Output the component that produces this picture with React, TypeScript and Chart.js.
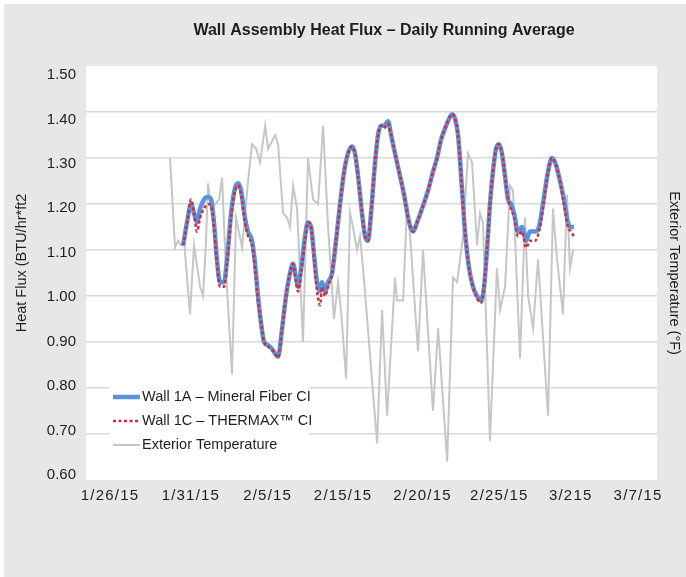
import React, { useEffect, useRef } from "react";
import { Chart, registerables } from "chart.js";

Chart.register(...registerables);

const TITLE = "Wall Assembly Heat Flux – Daily Running Average";
const Y_TITLE = "Heat Flux (BTU/hr*ft2";
const Y2_TITLE = "Exterior Temperature (°F)";
const SERIES_1A = "Wall 1A – Mineral Fiber CI";
const SERIES_1C = "Wall 1C – THERMAX™ CI";
const SERIES_T = "Exterior Temperature";

// x axis in days since 1/26/15
const X_MIN = -1.24;
const X_MAX = 41.15;
const X_TICK_LABELS = ["1/26/15", "1/31/15", "2/5/15", "2/15/15", "2/20/15", "2/25/15", "3/215", "3/7/15"];
const X_TICK_DAYS = [0.5, 6.5, 12.2, 17.8, 23.7, 29.4, 34.7, 39.7];
const Y_TICKS = [1.5, 1.4, 1.3, 1.2, 1.1, 1.0, 0.9, 0.8, 0.7, 0.6];

const FLUX_DAYS = [
  5.97, 6.26, 6.56, 6.78, 7.0, 7.23, 7.52, 7.82, 8.04, 8.26,
  8.48, 8.71, 9.0, 9.23, 9.53, 9.83, 10.05, 10.27, 10.56, 10.79,
  11.09, 11.31, 11.53, 11.76, 11.98, 12.28, 12.57, 12.8, 13.02, 13.32,
  13.61, 13.91, 14.13, 14.35, 14.5, 14.73, 15.02, 15.24, 15.47, 15.69,
  15.91, 16.14, 16.29, 16.51, 16.73, 17.03, 17.32, 17.62, 17.92, 18.21,
  18.51, 18.73, 18.96, 19.25, 19.48, 19.7, 19.92, 20.22, 20.44, 20.66,
  20.89, 21.18, 21.41, 21.7, 22.08, 22.37, 22.75, 23.04, 23.34, 23.71,
  24.16, 24.52, 24.82, 25.12, 25.49, 25.79, 25.94, 26.16, 26.38, 26.68,
  26.9, 27.2, 27.49, 27.79, 28.09, 28.31, 28.53, 28.75, 28.97, 29.2,
  29.42, 29.64, 29.87, 30.09, 30.31, 30.54, 30.83, 31.13, 31.43, 31.72,
  32.09, 32.39, 32.68, 33.06, 33.35, 33.65, 33.95, 34.24, 34.54, 34.76,
  34.98,
];

const WALL_1A = [
  1.11, 1.16, 1.2, 1.18, 1.16, 1.19, 1.21, 1.215, 1.21, 1.16,
  1.08, 1.03, 1.03, 1.08, 1.18, 1.235, 1.245, 1.23, 1.17, 1.14,
  1.12, 1.07, 1.0, 0.94, 0.9, 0.893, 0.885, 0.875, 0.868, 0.93,
  1.0, 1.05, 1.07, 1.04, 1.02, 1.06, 1.13, 1.16, 1.15, 1.09,
  1.03, 1.01, 1.03, 1.01, 1.03, 1.05, 1.12, 1.2, 1.27, 1.31,
  1.325, 1.31, 1.26, 1.18, 1.13, 1.12, 1.18, 1.29, 1.35, 1.37,
  1.37, 1.38, 1.35, 1.31, 1.26, 1.22, 1.16, 1.14, 1.16, 1.19,
  1.23, 1.27, 1.3, 1.34, 1.37, 1.39, 1.395, 1.385, 1.35, 1.23,
  1.14, 1.06, 1.02, 1.0, 0.99, 1.02, 1.1, 1.2, 1.27, 1.32,
  1.33, 1.31, 1.26, 1.21, 1.2, 1.18, 1.14, 1.15, 1.12, 1.14,
  1.14, 1.15, 1.2, 1.27, 1.3, 1.285, 1.25, 1.21, 1.16, 1.15,
  1.15,
];

const WALL_1C = [
  1.11, 1.16, 1.21, 1.18, 1.14, 1.17, 1.19, 1.2, 1.195, 1.15,
  1.07, 1.02, 1.02, 1.07, 1.17, 1.23, 1.24, 1.22, 1.16, 1.13,
  1.11, 1.06, 0.99, 0.94, 0.9, 0.89, 0.883, 0.873, 0.866, 0.93,
  1.0, 1.05, 1.07, 1.03, 1.01, 1.05, 1.12, 1.16, 1.15, 1.08,
  1.01, 0.98, 1.02, 1.0, 1.02, 1.05, 1.12, 1.2, 1.27, 1.31,
  1.325, 1.31, 1.26, 1.18, 1.13, 1.12, 1.18, 1.29, 1.35, 1.37,
  1.365, 1.375, 1.35, 1.31, 1.26, 1.22, 1.16, 1.14, 1.16, 1.19,
  1.23, 1.27, 1.3, 1.34, 1.37, 1.39, 1.395, 1.385, 1.35, 1.23,
  1.14, 1.06, 1.02, 0.995, 0.985, 1.02, 1.1, 1.2, 1.27, 1.32,
  1.33, 1.31, 1.26, 1.21, 1.19, 1.17, 1.13, 1.14, 1.105, 1.12,
  1.12, 1.14, 1.19, 1.27, 1.3, 1.285, 1.25, 1.2, 1.15, 1.14,
  1.13,
];

const TEMP_DAYS = [
  5.0, 5.37, 5.59, 5.82, 6.04, 6.48, 6.78, 7.23, 7.45, 7.67,
  7.82, 8.04, 8.34, 8.64, 8.86, 9.16, 9.6, 9.9, 10.35, 10.79,
  11.09, 11.39, 11.68, 12.06, 12.28, 12.8, 13.02, 13.39, 13.69, 13.91,
  14.13, 14.43, 14.87, 15.24, 15.62, 15.99, 16.36, 16.73, 17.17, 17.47,
  17.69, 18.07, 18.36, 18.58, 18.88, 19.1, 19.33, 20.37, 20.74, 21.11,
  21.7, 21.85, 22.3, 22.6, 22.82, 23.41, 23.78, 24.52, 24.9, 25.57,
  26.01, 26.31, 26.75, 27.12, 27.42, 27.79, 28.01, 28.23, 28.75, 29.27,
  29.5, 29.87, 30.24, 30.46, 30.61, 30.98, 31.35, 31.58, 31.95, 32.32,
  33.06, 33.43, 33.73, 34.17, 34.47, 34.69, 34.92,
];

const TEMP_F = [
  50, 30.5, 32, 31, 32, 16, 31, 22, 20, 32,
  44.5, 39, 40, 41, 45.7, 25, 3, 37, 30.5, 45,
  53, 52, 49, 57, 52, 55, 53, 38, 37, 35,
  44, 39, 10, 50, 41, 40, 57, 35, 15, 23,
  17, 2, 38, 35, 30, 33, 26, -12, 17, -6,
  24, 19, 19, 40, 33, 8, 30, -5, 13, -16,
  24, 23, 33, 51, 49, 31, 38, 36, -11.5, 26,
  17, 22, 44, 43, 33, 6.5, 37, 20, 13, 28,
  -6, 39, 28, 16, 42, 26, 30,
];

const FONT = "'Liberation Sans', Arial, Helvetica, sans-serif";
const TEXT = "#1e1e1e";
const BLUE = "#5a93d8";
const RED = "#d5283b";
const GRAY_LINE = "#c6c6c6";
const GRID = "#d9d9d9";
const BG = "#e6e7e8";

const bgPlugin = {
  id: "bg",
  beforeDraw(chart: any) {
    const { ctx, width, height, chartArea } = chart;
    ctx.save();
    ctx.fillStyle = BG;
    ctx.fillRect(0, 0, width, height);
    ctx.fillStyle = "#ffffff";
    ctx.fillRect(chartArea.left, chartArea.top, chartArea.right - chartArea.left, chartArea.bottom - chartArea.top);
    ctx.fillStyle = TEXT;
    ctx.font = `bold 16px ${FONT}`;
    ctx.textAlign = "center";
    ctx.textBaseline = "middle";
    ctx.fillText(TITLE, 380, 27);
    ctx.restore();
  },
};

const legendPlugin = {
  id: "innerLegend",
  afterDatasetsDraw(chart: any) {
    const { ctx } = chart;
    const items = [
      { text: SERIES_1A, color: BLUE, width: 4.5, dash: [] as number[] },
      { text: SERIES_1C, color: RED, width: 2.5, dash: [3, 2.5] },
      { text: SERIES_T, color: GRAY_LINE, width: 2, dash: [] as number[] },
    ];
    ctx.save();
    ctx.fillStyle = "#ffffff";
    ctx.fillRect(105, 374, 200, 84);
    ctx.font = `14.5px ${FONT}`;
    ctx.textBaseline = "middle";
    ctx.textAlign = "left";
    items.forEach((it, i) => {
      const y = 393 + i * 24;
      ctx.beginPath();
      ctx.setLineDash(it.dash);
      ctx.strokeStyle = it.color;
      ctx.lineWidth = it.width;
      ctx.moveTo(109, y);
      ctx.lineTo(136, y);
      ctx.stroke();
      ctx.setLineDash([]);
      ctx.fillStyle = TEXT;
      ctx.fillText(it.text, 138, y);
    });
    ctx.restore();
  },
};

// axis labels drawn from the scales (reference labels are slightly compressed vs. gridlines)
const axisTextPlugin = {
  id: "axisText",
  afterDraw(chart: any) {
    const { ctx, chartArea } = chart;
    const xs = chart.scales.x;
    const ys = chart.scales.y;
    ctx.save();
    ctx.fillStyle = TEXT;
    ctx.font = `15px ${FONT}`;
    // x labels
    ctx.textAlign = "center";
    ctx.textBaseline = "middle";
    (ctx as any).letterSpacing = "1.2px";
    X_TICK_DAYS.forEach((d, i) => {
      ctx.fillText(X_TICK_LABELS[i], xs.getPixelForValue(d) + 0.6, chartArea.bottom + 16);
    });
    (ctx as any).letterSpacing = "0px";
    // y labels
    ctx.textAlign = "right";
    const top = ys.getPixelForValue(1.5);
    const bot = ys.getPixelForValue(0.6);
    const k = 400 / (bot - top);
    Y_TICKS.forEach((v) => {
      const p = ys.getPixelForValue(v);
      ctx.fillText(v.toFixed(2), chartArea.left - 10, top + 9 + (p - top) * k);
    });
    // y title
    ctx.font = `14.5px ${FONT}`;
    ctx.textAlign = "center";
    ctx.translate(18, (chartArea.top + chartArea.bottom) / 2 - 10);
    ctx.rotate(-Math.PI / 2);
    ctx.fillText(Y_TITLE, 0, 0);
    ctx.restore();
  },
};

export default function App() {
  const ref = useRef<HTMLCanvasElement>(null);
  useEffect(() => {
    document.body.style.margin = "0";
    const canvas = ref.current!;
    const chart = new Chart(canvas, {
      type: "line",
      data: {
        datasets: [
          {
            label: SERIES_1C,
            data: FLUX_DAYS.map((d, i) => ({ x: d, y: WALL_1C[i] })),
            borderColor: RED,
            borderWidth: 2.5,
            borderDash: [3, 2.5],
            pointRadius: 0,
            tension: 0.4,
            cubicInterpolationMode: "monotone",
            yAxisID: "y",
            order: 1,
          } as any,
          {
            label: SERIES_1A,
            data: FLUX_DAYS.map((d, i) => ({ x: d, y: WALL_1A[i] })),
            borderColor: BLUE,
            borderWidth: 4.5,
            pointRadius: 0,
            tension: 0.4,
            cubicInterpolationMode: "monotone",
            yAxisID: "y",
            order: 2,
          },
          {
            label: SERIES_T,
            data: TEMP_DAYS.map((d, i) => ({ x: d, y: TEMP_F[i] })),
            borderColor: GRAY_LINE,
            borderWidth: 2,
            pointRadius: 0,
            tension: 0,
            yAxisID: "y2",
            order: 3,
          },
        ],
      },
      options: {
        animation: false,
        responsive: false,
        maintainAspectRatio: false,
        layout: { padding: { top: 62, left: 0, right: 0, bottom: 0 } },
        plugins: {
          legend: { display: false },
          title: { display: false },
          tooltip: { enabled: false },
        },
        scales: {
          x: {
            type: "linear",
            min: X_MIN,
            max: X_MAX,
            afterBuildTicks: (s: any) => {
              s.ticks = X_TICK_DAYS.map((v) => ({ value: v }));
            },
            afterFit: (s: any) => {
              s.height = 97;
            },
            ticks: { display: false },
            grid: { display: false },
            border: { display: false },
          },
          y: {
            position: "left",
            min: 0.6,
            max: 1.5,
            afterFit: (s: any) => {
              s.width = 82;
            },
            ticks: { stepSize: 0.1, display: false },
            grid: {
              drawTicks: false,
              lineWidth: 1.5,
              color: (c: any) => {
                const v = c.tick ? c.tick.value : 0;
                return Math.abs(v - 0.6) < 1e-6 || Math.abs(v - 1.5) < 1e-6 ? "rgba(0,0,0,0)" : GRID;
              },
            },
            border: { display: false },
          },
          y2: {
            position: "right",
            min: -20,
            max: 70,
            afterFit: (s: any) => {
              s.width = 29;
            },
            ticks: { display: false },
            grid: { display: false },
            border: { display: false },
            title: {
              display: true,
              text: Y2_TITLE,
              color: TEXT,
              font: { family: FONT, size: 14.5 },
              padding: { top: 3, bottom: 0 },
            },
          },
        },
      },
      plugins: [bgPlugin, legendPlugin, axisTextPlugin],
    });
    return () => chart.destroy();
  }, []);

  return (
    <div style={{ position: "relative", width: 686, height: 577, background: "#ffffff" }}>
      <canvas
        ref={ref}
        width={682}
        height={573}
        style={{ position: "absolute", left: 4, top: 4, width: 682, height: 573 }}
      />
    </div>
  );
}
